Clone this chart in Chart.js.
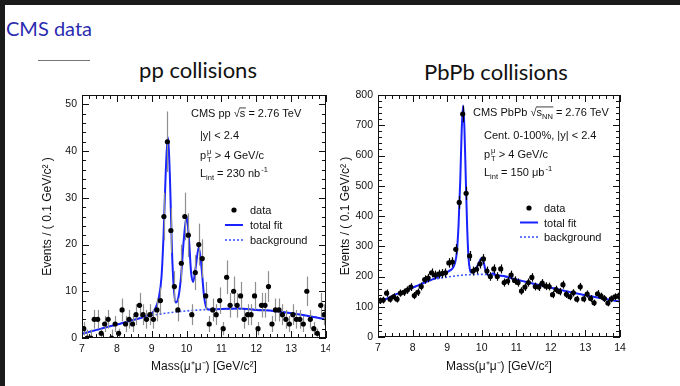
<!DOCTYPE html>
<html>
<head>
<meta charset="utf-8">
<script src="https://cdn.jsdelivr.net/npm/chart.js@4.4.1/dist/chart.umd.min.js"></script>
<style>
  body { margin: 0; width: 680px; height: 386px; background: #fff; position: relative; overflow: hidden; }
  .bar-top { position: absolute; left: 0; top: 0; width: 680px; height: 5px; background: #1b1b1b; }
  .bar-left { position: absolute; left: 0; top: 0; width: 5px; height: 386px; background: #1b1b1b; }
  #heading { position: absolute; left: 6px; top: 18px; font: 20px Lato, sans-serif; line-height: 20px; color: #2b2bb0; }
  #rule { position: absolute; left: 38px; top: 60px; width: 52px; height: 1px; background: #777; }
  .panel-title { position: absolute; font: 22px Lato, sans-serif; line-height: 22px; color: #111; transform: translateX(-50%); white-space: nowrap; }
  canvas { position: absolute; }
</style>
</head>
<body>
<div class="bar-top"></div>
<div class="bar-left"></div>
<div id="heading">CMS data</div>
<div id="rule"></div>
<div class="panel-title" style="left:198px; top:59px;">pp collisions</div>
<div class="panel-title" style="left:496px; top:61px;">PbPb collisions</div>
<canvas id="ppChart" width="300" height="298" style="left:30px; top:88px;"></canvas>
<canvas id="pbChart" width="350" height="298" style="left:330px; top:88px;"></canvas>
<script>
// dimuon mass spectra, 0.1 GeV bins from 7 to 14 GeV
const massLow = 7.0;
const binWidth = 0.1;
const massTicks = [7, 8, 9, 10, 11, 12, 13, 14];
const ppYTicks = [0, 10, 20, 30, 40, 50];
const pbYTicks = [0, 100, 200, 300, 400, 500, 600, 700, 800];

const ppCounts = [
  2, 0, 0, 4, 4, 1, 3, 4, 0, 3,
  1, 6, 3, 4, 3, 5, 7, 5, 4, 5,
  4, 6, 8, 26, 42, 23, 11, 6, 16, 26,
  22, 5, 14, 20, 17, 9, 3, 6, 5, 8,
  2, 13, 7, 10, 7, 9, 4, 5, 5, 9,
  2, 7, 7, 11, 3, 6, 6, 5, 4, 3,
  5, 4, 4, 3, 10, 4, 2, 1, 7, 5
];
const pbCounts = [
  120, 122, 145, 125, 133, 125, 145, 148, 155, 165,
  137, 148, 167, 190, 195, 212, 205, 208, 210, 212,
  245, 248, 290, 445, 737, 475, 268, 218, 224, 242,
  258, 218, 200, 225, 200, 225, 180, 185, 205, 187,
  180, 152, 165, 180, 197, 167, 165, 178, 168, 167,
  140, 157, 150, 173, 141, 133, 146, 125, 166, 126,
  142, 127, 113, 143, 135, 127, 112, 126, 133, 135
];

// fitted curves, sampled along the mass axis
const ppFitMass = [7.0, 7.5, 8.0, 8.5, 8.8, 9.0, 9.1, 9.2, 9.28, 9.34, 9.40, 9.46, 9.52, 9.58, 9.63, 9.69, 9.76, 9.84, 9.92, 10.0, 10.07, 10.13, 10.19, 10.26, 10.35, 10.43, 10.5, 10.56, 10.62, 11.0, 11.5, 12.0, 12.5, 13.0, 13.5, 14.0];
const ppFitVal  = [0.9, 1.9, 2.9, 3.9, 4.6, 5.3, 6.3, 8.5, 13, 22, 35, 43, 35, 19, 11, 7.6, 8.5, 13, 21, 26, 21, 14, 12, 15, 19.5, 15, 9, 6.6, 6.1, 6.2, 6.3, 6.0, 5.8, 5.3, 4.7, 4.0];
const ppBkgMass = [7.0, 7.5, 8.0, 8.5, 9.0, 9.5, 10.0, 10.5, 11.0, 11.5, 12.0, 12.5, 13.0, 13.5, 14.0];
const ppBkgVal  = [0.9, 1.9, 2.9, 3.9, 4.8, 5.4, 5.8, 6.05, 6.2, 6.25, 6.1, 5.8, 5.3, 4.7, 4.0];

const pbFitMass = [7.0, 7.5, 8.0, 8.5, 8.9, 9.05, 9.15, 9.22, 9.28, 9.33, 9.38, 9.42, 9.46, 9.50, 9.54, 9.58, 9.62, 9.66, 9.70, 9.78, 9.86, 9.94, 10.0, 10.05, 10.1, 10.15, 10.2, 10.28, 10.33, 10.38, 10.44, 10.5, 11.0, 11.5, 12.0, 12.5, 13.0, 13.5, 14.0];
const pbFitVal  = [113, 140, 163, 187, 208, 218, 226, 242, 280, 370, 520, 680, 765, 690, 520, 360, 260, 222, 213, 218, 232, 250, 262, 250, 225, 210, 205, 207, 211, 207, 200, 203, 190, 176, 163, 150, 138, 127, 117];
const pbBkgMass = [7.0, 7.5, 8.0, 8.5, 9.0, 9.5, 10.0, 10.5, 11.0, 11.5, 12.0, 12.5, 13.0, 13.5, 14.0];
const pbBkgVal  = [113, 140, 163, 187, 198, 205, 207, 203, 190, 176, 163, 150, 138, 127, 117];

const fitBlue = 'rgb(25, 35, 255)';
const bkgBlue = 'rgb(60, 90, 255)';
const FONT = "'Liberation Sans', Arial, sans-serif";

// text with sub/superscripts and a square-root bar
function drawRich(ctx, x, y, parts, size) {
  let cx = x;
  const big = size + 'px ' + FONT;
  const small = (size * 0.68).toFixed(1) + 'px ' + FONT;
  for (const [txt, kind, extra] of parts) {
    if (kind === 'n') {
      ctx.font = big;
      ctx.fillText(txt, cx, y);
      cx += ctx.measureText(txt).width;
    } else if (kind === 'sub') {
      ctx.font = small;
      ctx.fillText(txt, cx, y + size * 0.28);
      cx += ctx.measureText(txt).width;
    } else if (kind === 'sup') {
      ctx.font = small;
      ctx.fillText(txt, cx + 1, y - size * 0.42);
      cx += ctx.measureText(txt).width + 1;
    } else if (kind === 'pair') {
      ctx.font = small;
      ctx.fillText(txt, cx + 1, y - size * 0.45);
      ctx.fillText(extra, cx + 1, y + size * 0.3);
      cx += Math.max(ctx.measureText(txt).width, ctx.measureText(extra).width) + 1;
    } else if (kind === 'root') {
      ctx.font = big;
      ctx.fillText('√', cx, y);
      cx += ctx.measureText('√').width;
      const start = cx;
      ctx.fillText(txt, cx, y);
      cx += ctx.measureText(txt).width;
      if (extra) {
        ctx.font = small;
        ctx.fillText(extra, cx, y + size * 0.28);
        cx += ctx.measureText(extra).width;
      }
      ctx.fillRect(start - 0.5, y - size * 0.86, cx - start + 1, 0.8);
    }
  }
}

const errorBars = {
  id: 'errorBars',
  beforeDatasetDraw(chart, args) {
    if (args.index !== 0) return;
    const ds = chart.data.datasets[0];
    const {ctx, scales: {x, y}} = chart;
    ctx.save();
    ctx.strokeStyle = ds.errColor;
    ctx.lineWidth = 1.2;
    ds.data.forEach(p => {
      const up = p.y > 0 ? Math.sqrt(p.y) : 1.8;
      const dn = Math.sqrt(p.y);
      const px = Math.round(x.getPixelForValue(p.x)) + 0.5;
      ctx.beginPath();
      ctx.moveTo(px, y.getPixelForValue(p.y - dn));
      ctx.lineTo(px, y.getPixelForValue(p.y + up));
      ctx.stroke();
    });
    ctx.restore();
  }
};

// frame with inward ticks on all four sides
const frameTicks = {
  id: 'frameTicks',
  afterDatasetsDraw(chart, args, o) {
    const {ctx, chartArea: a, scales: {x, y}} = chart;
    ctx.save();
    ctx.strokeStyle = '#111';
    ctx.lineWidth = 1;
    ctx.strokeRect(Math.round(a.left) + 0.5, Math.round(a.top) + 0.5, Math.round(a.right - a.left) - 1, Math.round(a.bottom - a.top) - 1);
    ctx.beginPath();
    const nx = Math.round((x.max - x.min) / o.xMinor);
    for (let i = 0; i <= nx; i++) {
      const v = x.min + i * o.xMinor;
      const len = i % o.xPer === 0 ? 7 : 4;
      const px = Math.round(x.getPixelForValue(v)) + 0.5;
      ctx.moveTo(px, a.bottom); ctx.lineTo(px, a.bottom - len);
      ctx.moveTo(px, a.top); ctx.lineTo(px, a.top + len);
    }
    const ny = Math.floor((y.max - y.min) / o.yMinor + 1e-6);
    for (let i = 0; i <= ny; i++) {
      const v = y.min + i * o.yMinor;
      const len = i % o.yPer === 0 ? 7 : 4;
      const py = Math.round(y.getPixelForValue(v)) + 0.5;
      ctx.moveTo(a.left, py); ctx.lineTo(a.left + len, py);
      ctx.moveTo(a.right, py); ctx.lineTo(a.right - len, py);
    }
    ctx.stroke();
    ctx.restore();
  }
};

// in-frame legend and run labels
const overlay = {
  id: 'overlay',
  afterDraw(chart, args, o) {
    const {ctx, chartArea: a} = chart;
    const ds = chart.data.datasets;
    ctx.save();
    ctx.fillStyle = '#111';
    ctx.strokeStyle = '#111';
    ctx.textBaseline = 'alphabetic';
    o.notes.forEach(n => drawRich(ctx, a.left + n.dx, a.top + n.dy, n.parts, 11));
    const L = o.legend;
    ctx.fillStyle = '#000';
    ctx.beginPath();
    ctx.arc(a.left + L.x + 9, a.top + L.y, 2.6, 0, Math.PI * 2);
    ctx.fill();
    ctx.lineWidth = ds[1].borderWidth;
    ctx.strokeStyle = ds[1].borderColor;
    ctx.beginPath();
    ctx.moveTo(a.left + L.x, a.top + L.y + L.gap); ctx.lineTo(a.left + L.x + 18, a.top + L.y + L.gap);
    ctx.stroke();
    ctx.lineWidth = ds[2].borderWidth;
    ctx.strokeStyle = ds[2].borderColor;
    ctx.setLineDash(ds[2].borderDash);
    ctx.beginPath();
    ctx.moveTo(a.left + L.x, a.top + L.y + 2 * L.gap); ctx.lineTo(a.left + L.x + 18, a.top + L.y + 2 * L.gap);
    ctx.stroke();
    ctx.setLineDash([]);
    ctx.fillStyle = '#111';
    ctx.font = '11px ' + FONT;
    ds.forEach((d, i) => ctx.fillText(d.label, a.left + L.x + L.text, a.top + L.y + i * L.gap + 4));
    ctx.restore();
  }
};

function makeChart(id, cfg) {
  const tickFont = {family: FONT, size: 10.5};
  const titleFont = {family: FONT, size: 12};
  return new Chart(document.getElementById(id), {
    type: 'scatter',
    data: {
      datasets: [
        {
          label: 'data',
          data: cfg.counts.map((v, i) => ({x: massLow + binWidth * (i + 0.5), y: v})),
          pointRadius: 2.6, pointBackgroundColor: '#000', pointBorderWidth: 0,
          errColor: cfg.errColor
        },
        {
          label: 'total fit',
          data: cfg.fitMass.map((m, i) => ({x: m, y: cfg.fitVal[i]})),
          showLine: true, pointRadius: 0, borderColor: fitBlue, borderWidth: 2,
          cubicInterpolationMode: 'monotone'
        },
        {
          label: 'background',
          data: cfg.bkgMass.map((m, i) => ({x: m, y: cfg.bkgVal[i]})),
          showLine: true, pointRadius: 0, borderColor: bkgBlue, borderWidth: 1.6,
          borderDash: [2, 2], cubicInterpolationMode: 'monotone'
        }
      ]
    },
    options: {
      responsive: false,
      animation: false,
      events: [],
      layout: {padding: cfg.pad},
      plugins: {
        legend: {display: false},
        tooltip: {enabled: false},
        frameTicks: cfg.ticks,
        overlay: {notes: cfg.notes, legend: cfg.legend}
      },
      scales: {
        x: {
          type: 'linear', min: 7, max: 14,
          grid: {display: false, drawTicks: false}, border: {display: false},
          afterBuildTicks: s => { s.ticks = massTicks.map(v => ({value: v})); },
          afterFit: s => { s.height = cfg.xh; s.paddingLeft = 0; s.paddingRight = 0; },
          ticks: {font: tickFont, color: '#111', padding: 5, maxRotation: 0, autoSkip: false},
          title: {display: true, text: 'Mass(μ⁺μ⁻) [GeV/c²]', font: titleFont, color: '#111', padding: {top: 0, bottom: 12}}
        },
        y: {
          min: 0, max: cfg.yMax,
          grid: {display: false, drawTicks: false}, border: {display: false},
          afterBuildTicks: s => { s.ticks = cfg.yTicks.map(v => ({value: v})); },
          afterFit: s => { s.width = cfg.yw; s.paddingTop = 0; s.paddingBottom = 0; },
          ticks: {font: tickFont, color: '#111', padding: 5, autoSkip: false},
          title: {display: true, text: 'Events / ( 0.1 GeV/c² )', font: titleFont, color: '#111', padding: {top: cfg.ytPad, bottom: 0}}
        }
      }
    },
    plugins: [errorBars, frameTicks, overlay]
  });
}

makeChart('ppChart', {
  counts: ppCounts, fitMass: ppFitMass, fitVal: ppFitVal, bkgMass: ppBkgMass, bkgVal: ppBkgVal,
  errColor: '#8f8f8f', yMax: 52, yTicks: ppYTicks,
  pad: {left: 0, right: 2, top: 7, bottom: 0}, xh: 48, yw: 52, ytPad: 10,
  ticks: {xMinor: 0.2, xPer: 5, yMinor: 2, yPer: 5},
  notes: [
    {dx: 109, dy: 22, parts: [['CMS pp ', 'n'], ['s', 'root'], [' = 2.76 TeV', 'n']]},
    {dx: 118, dy: 44, parts: [['|y| < 2.4', 'n']]},
    {dx: 118, dy: 64, parts: [['p', 'n'], ['μ', 'pair', 'T'], [' > 4 GeV/c', 'n']]},
    {dx: 118, dy: 82, parts: [['L', 'n'], ['int', 'sub'], [' = 230 nb', 'n'], ['-1', 'sup']]}
  ],
  legend: {x: 143, y: 115, gap: 15, text: 25}
});

makeChart('pbChart', {
  counts: pbCounts, fitMass: pbFitMass, fitVal: pbFitVal, bkgMass: pbBkgMass, bkgVal: pbBkgVal,
  errColor: '#000', yMax: 800, yTicks: pbYTicks,
  pad: {left: 0, right: 60, top: 7, bottom: 0}, xh: 49, yw: 48, ytPad: 8,
  ticks: {xMinor: 0.2, xPer: 5, yMinor: 20, yPer: 5},
  notes: [
    {dx: 95, dy: 21, parts: [['CMS PbPb ', 'n'], ['s', 'root', 'NN'], [' = 2.76 TeV', 'n']]},
    {dx: 106, dy: 44, parts: [['Cent. 0-100%, |y| < 2.4', 'n']]},
    {dx: 106, dy: 63, parts: [['p', 'n'], ['μ', 'pair', 'T'], [' > 4 GeV/c', 'n']]},
    {dx: 106, dy: 81, parts: [['L', 'n'], ['int', 'sub'], [' = 150 μb', 'n'], ['-1', 'sup']]}
  ],
  legend: {x: 142, y: 113, gap: 14.5, text: 24}
});
</script>
</body>
</html>
